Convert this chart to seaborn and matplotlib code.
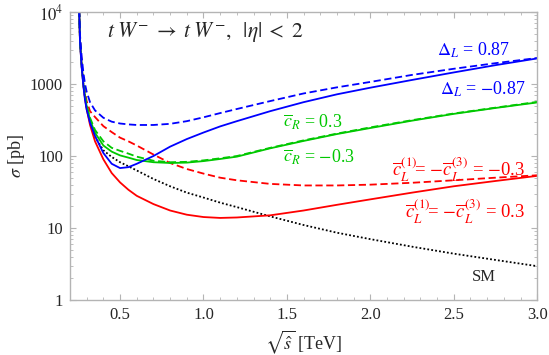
import numpy as np
import pandas as pd
import matplotlib
matplotlib.use('Agg')
import matplotlib.pyplot as plt
import matplotlib.ticker as mticker
import seaborn as sns

#### Dados (sqrt(s) em TeV, sigma em pb) ####
sqrt_s = [0.25, 0.26, 0.27, 0.28, 0.29, 0.3, 0.32, 0.35, 0.4, 0.45, 0.5, 0.55, 0.6, 0.7,
          0.8, 0.9, 1.0, 1.1, 1.2, 1.4, 1.6, 1.8, 2.0, 2.25, 2.5, 2.75, 3.0]

sig_sm = [30000, 4000, 1800, 1000, 650, 470, 300, 185, 120, 97, 82, 72, 63, 48,
          38, 31, 26.5, 22.5, 19.5, 14.5, 11, 8.6, 7.0, 5.5, 4.4, 3.6, 2.95]
sig_dl_pos = [30000, 4800, 2400, 1450, 1000, 780, 560, 430, 340, 300, 283, 275, 270, 270,
              280, 305, 345, 395, 450, 580, 740, 900, 1070, 1340, 1630, 1950, 2300]
sig_dl_neg = [30000, 3800, 1700, 950, 600, 440, 290, 190, 110, 78, 68, 70, 78, 100,
              135, 172, 212, 258, 305, 420, 560, 720, 890, 1140, 1450, 1830, 2270]
sig_cr_pos = [30000, 4000, 1850, 1050, 700, 510, 340, 230, 160, 130, 118, 108, 98, 86,
              82, 83, 87, 93, 100, 130, 165, 205, 250, 315, 390, 470, 565]
sig_cr_neg = [30000, 4000, 1800, 1000, 670, 490, 320, 210, 140, 115, 102, 95, 88, 82,
              80, 81, 85, 91, 98, 128, 162, 202, 245, 310, 385, 465, 555]
sig_cl_neg = [30000, 4200, 2000, 1150, 780, 580, 420, 348, 260, 215, 180, 160, 140, 105,
              80, 66, 57, 50, 46, 41, 39, 39, 40, 42.5, 46, 50, 54]
sig_cl_pos = [30000, 3800, 1750, 970, 630, 450, 270, 160, 90, 58, 43, 34, 28, 21.5,
              17.5, 15.3, 14.2, 13.8, 14, 15, 17.5, 21, 25, 31, 38, 45, 53]

#### Configuração de estilo ####
sns.set_style('ticks')
plt.rcParams['font.family'] = ['Liberation Serif', 'DejaVu Serif']
plt.rcParams['mathtext.fontset'] = 'stix'

AZUL = '#0000ff'
VERDE = '#00c800'
VERMELHO = '#ff0000'
CINZA = '#b4b4b4'

fig = plt.figure(figsize=(5.49, 3.55), dpi=100)
ax = fig.add_axes([0.1275, 0.155, 0.851, 0.811])

curvas = [
    (sig_sm, 'black', (0, (1, 1.2))),
    (sig_cl_pos, VERMELHO, '-'),
    (sig_cl_neg, VERMELHO, (0, (4, 2))),
    (sig_cr_neg, VERDE, '-'),
    (sig_cr_pos, VERDE, (0, (4, 2))),
    (sig_dl_neg, AZUL, '-'),
    (sig_dl_pos, AZUL, (0, (4, 2))),
]
for valores, cor, estilo in curvas:
    df = pd.DataFrame({'x': sqrt_s, 'y': valores})
    sns.lineplot(data=df, x='x', y='y', color=cor, lw=1.3, linestyle=estilo, ax=ax)

ax.set_yscale('log')
ax.set_xlim(0.2, 3.0)
ax.set_ylim(1, 1e4)

#### Eixos no estilo Mathematica ####
ax.set_xticks([0.5, 1.0, 1.5, 2.0, 2.5, 3.0])
ax.set_xticklabels(['0.5', '1.0', '1.5', '2.0', '2.5', '3.0'])
ax.xaxis.set_minor_locator(mticker.MultipleLocator(0.1))
ax.set_yticks([1, 10, 100, 1000, 1e4])
ax.set_yticklabels(['1', '10', '100', '1000', r'$10^4$'])
ax.yaxis.set_minor_locator(mticker.LogLocator(base=10, subs=np.arange(2, 10)))
ax.yaxis.set_minor_formatter(mticker.NullFormatter())
ax.tick_params(which='both', direction='in', top=True, right=True, color=CINZA,
               labelsize=12, pad=5)
ax.tick_params(which='major', length=4, width=0.8)
ax.tick_params(which='minor', length=2, width=0.6)
for lado in ax.spines.values():
    lado.set_color(CINZA)
    lado.set_linewidth(1.0)

ax.set_xlabel(r'$\sqrt{\hat{s}}$ [TeV]', fontsize=13, labelpad=4)
ax.set_ylabel(r'$\sigma$ [pb]', fontsize=13, labelpad=2)

#### Textos ####
ax.text(0.42, 5300, r'$t\;W^{-}\;\rightarrow\;t\;W^{-},\;\;|\eta|\;<\;2$', fontsize=15.5,
        va='center', ha='left')
ax.text(2.84, 2960, r'$\Delta_L$ = 0.87', color=AZUL, fontsize=13, ha='right', va='center')
ax.text(2.93, 850, r'$\Delta_L$ = $-$0.87', color=AZUL, fontsize=13, ha='right', va='center')
ax.text(1.477, 290, r'$\overline{c}_R$ = 0.3', color=VERDE, fontsize=13, ha='left', va='center')
ax.text(1.477, 97, r'$\overline{c}_R$ = $-$0.3', color=VERDE, fontsize=13, ha='left', va='center')
ax.text(2.93, 64, r'$\overline{c}_L^{(1)}\!$= $-\overline{c}_L^{(3)}$ = $-$0.3', color=VERMELHO,
        fontsize=13.5, ha='right', va='center')
ax.text(2.93, 16.7, r'$\overline{c}_L^{(1)}\!$= $-\overline{c}_L^{(3)}$ = 0.3', color=VERMELHO,
        fontsize=13.5, ha='right', va='center')
ax.text(2.68, 2.1, 'SM', fontsize=12, ha='center', va='center')

plt.savefig('out.png', dpi=100)
plt.close()
